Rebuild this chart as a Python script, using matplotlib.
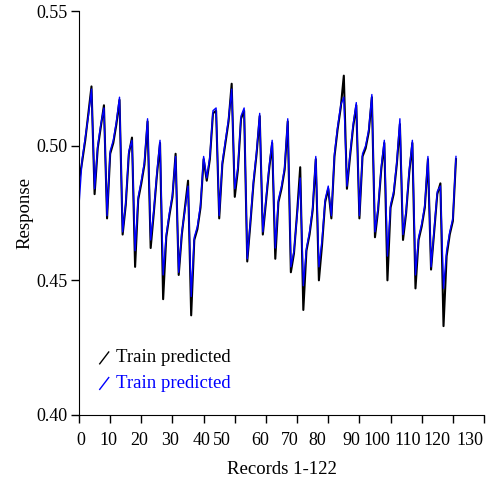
import numpy as np
import matplotlib
matplotlib.use("Agg")
import matplotlib.pyplot as plt
import matplotlib.transforms as mtransforms
from matplotlib.lines import Line2D
from matplotlib.legend_handler import HandlerBase

# records 1-122 (plotted from 0)
records = np.arange(122)

blue_vals = [
    0.478, 0.495, 0.503, 0.511, 0.521, 0.484, 0.500, 0.508, 0.514, 0.474,
    0.498, 0.502, 0.509, 0.518, 0.468, 0.479, 0.498, 0.502, 0.461, 0.481,
    0.487, 0.494, 0.510, 0.465, 0.476, 0.490, 0.502, 0.452, 0.467, 0.475,
    0.482, 0.496, 0.453, 0.468, 0.476, 0.485, 0.444, 0.466, 0.470, 0.478,
    0.496, 0.488, 0.496, 0.513, 0.514, 0.474, 0.494, 0.502, 0.510, 0.521,
    0.484, 0.492, 0.511, 0.514, 0.458, 0.472, 0.487, 0.498, 0.512, 0.468,
    0.480, 0.492, 0.502, 0.462, 0.480, 0.485, 0.492, 0.510, 0.455, 0.461,
    0.474, 0.488, 0.448, 0.462, 0.468, 0.477, 0.496, 0.455, 0.465, 0.480,
    0.485, 0.474, 0.497, 0.507, 0.515, 0.518, 0.485, 0.497, 0.508, 0.516,
    0.474, 0.497, 0.500, 0.506, 0.519, 0.468, 0.477, 0.492, 0.502, 0.459,
    0.478, 0.483, 0.494, 0.510, 0.467, 0.476, 0.491, 0.502, 0.452, 0.466,
    0.471, 0.478, 0.496, 0.455, 0.469, 0.483, 0.485, 0.447, 0.461, 0.468,
    0.473, 0.496,
]

black_vals = [
    0.487, 0.494, 0.502, 0.512, 0.522, 0.482, 0.499, 0.507, 0.515, 0.473,
    0.497, 0.501, 0.508, 0.517, 0.467, 0.478, 0.497, 0.503, 0.455, 0.480,
    0.486, 0.493, 0.509, 0.462, 0.475, 0.489, 0.501, 0.443, 0.466, 0.474,
    0.481, 0.497, 0.452, 0.467, 0.477, 0.487, 0.437, 0.465, 0.469, 0.477,
    0.495, 0.487, 0.495, 0.512, 0.513, 0.473, 0.493, 0.501, 0.509, 0.523,
    0.481, 0.491, 0.510, 0.513, 0.457, 0.471, 0.486, 0.497, 0.511, 0.467,
    0.479, 0.491, 0.501, 0.458, 0.479, 0.484, 0.491, 0.509, 0.453, 0.460,
    0.475, 0.492, 0.439, 0.461, 0.467, 0.476, 0.495, 0.450, 0.463, 0.479,
    0.484, 0.473, 0.496, 0.506, 0.514, 0.526, 0.484, 0.496, 0.507, 0.515,
    0.473, 0.496, 0.499, 0.505, 0.518, 0.466, 0.476, 0.491, 0.501, 0.450,
    0.477, 0.482, 0.493, 0.508, 0.465, 0.475, 0.490, 0.501, 0.447, 0.465,
    0.470, 0.477, 0.495, 0.454, 0.468, 0.482, 0.486, 0.433, 0.459, 0.467,
    0.472, 0.495,
]

x_ticks = np.arange(0, 131, 10)
y_ticks = [0.40, 0.45, 0.50, 0.55]
# the x tick labels in the source sit a little left of their ticks (pixels)
x_label_shift = [1.5, -2, -2.3, -2.7, -2.3, -13, -6, -7.5, -10.5, -8, -14, -14.5, -15.5, -14.5]


class DiagHandler(HandlerBase):
    # short slanted stroke as legend key
    def create_artists(self, legend, orig_handle, xdescent, ydescent,
                       width, height, fontsize, trans):
        ln = Line2D([0.35 * width, 0.75 * width], [-0.1 * height, 0.8 * height],
                    color=orig_handle.get_color(), lw=1.0)
        ln.set_transform(trans)
        return [ln]


plt.rcParams['font.family'] = ['Liberation Serif', 'DejaVu Serif']
plt.rcParams['font.size'] = 13

fig = plt.figure(figsize=(4.89, 4.83), dpi=100)
ax = fig.add_axes([0.1616, 0.1408, 0.8282, 0.8364])

l1, = ax.plot(records, black_vals, color='black', lw=1.5, label='Train predicted')
l2, = ax.plot(records, blue_vals, color='#0000ff', lw=1.0, label='Train predicted')

ax.set_xlim(0, 130)
ax.set_ylim(0.40, 0.55)
ax.set_xticks(x_ticks)
ax.set_yticks(y_ticks)
ax.set_yticklabels(['%.2f' % v for v in y_ticks])
ax.spines['top'].set_visible(False)
ax.spines['right'].set_visible(False)
ax.tick_params(direction='out', length=6, width=1, labelsize=13)
ax.tick_params(axis='x', pad=6)
ax.tick_params(axis='y', pad=2.5)
ax.set_xlabel('Records 1-122', labelpad=9, fontsize=13.5)
ax.set_ylabel('Response', labelpad=2, fontsize=13.5)

for lab, dx in zip(ax.get_xticklabels(), x_label_shift):
    off = mtransforms.ScaledTranslation(dx / 100.0, 0, fig.dpi_scale_trans)
    lab.set_transform(lab.get_transform() + off)

leg = ax.legend(handles=[l1, l2], loc='lower left', bbox_to_anchor=(-0.01, 0.015),
                frameon=False, handlelength=1.2, handletextpad=0.1,
                labelspacing=0.45, labelcolor='linecolor', fontsize=13.5,
                handler_map={Line2D: DiagHandler()})

fig.savefig('out.png', dpi=100)
